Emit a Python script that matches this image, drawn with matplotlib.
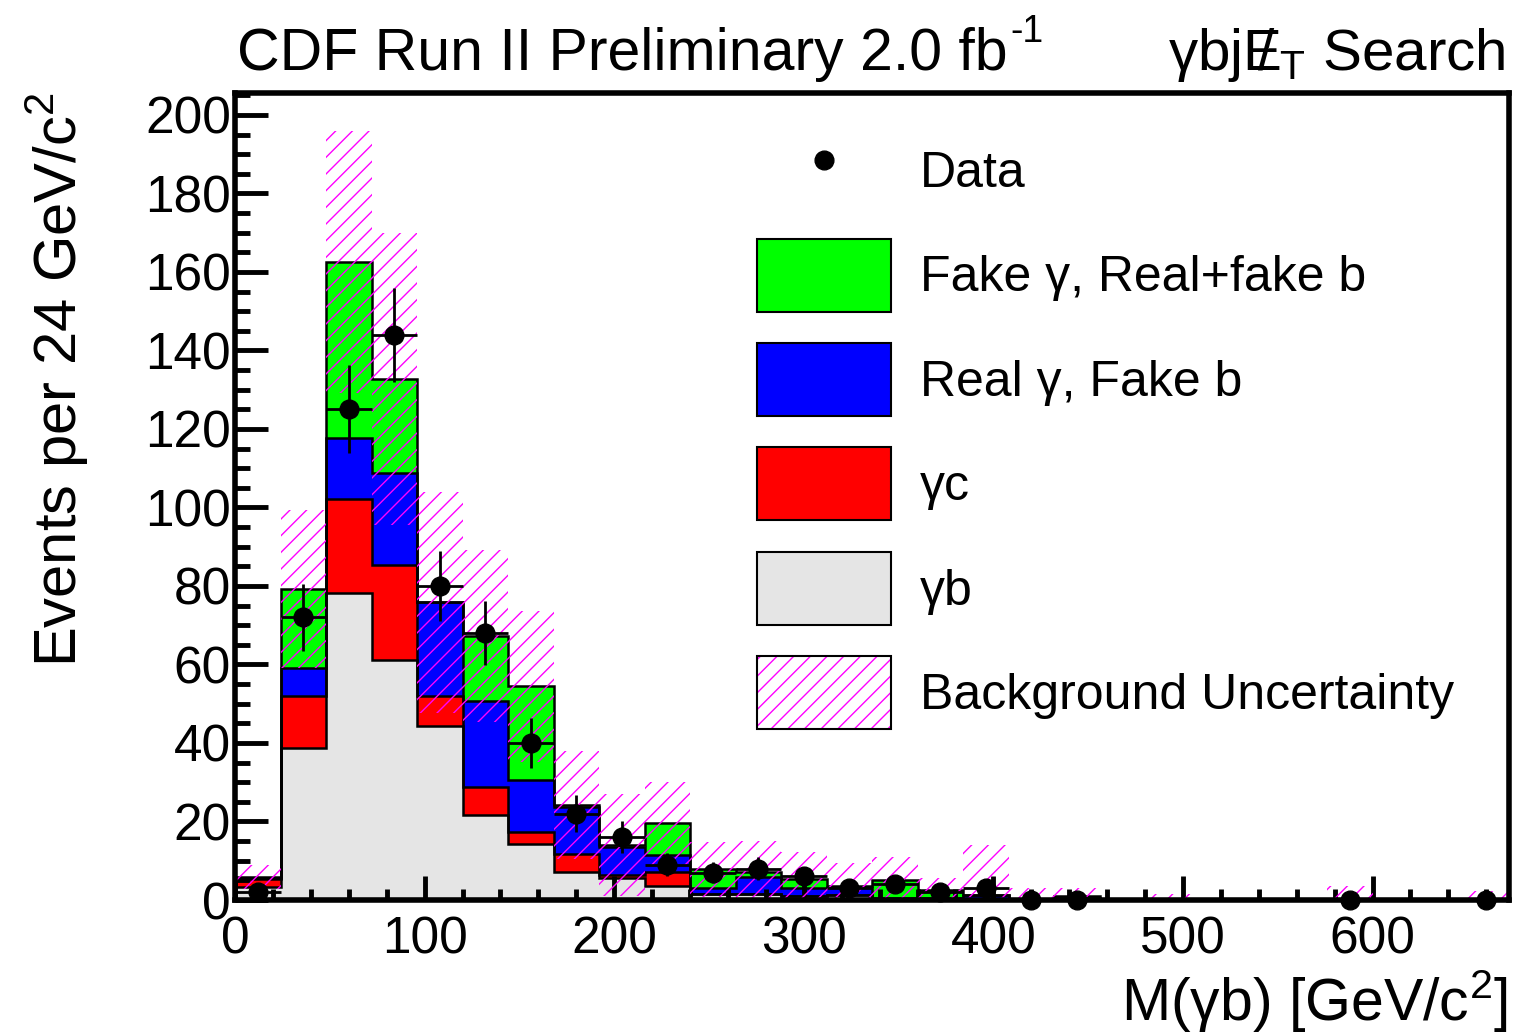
import numpy as np
import matplotlib
matplotlib.use('Agg')
import matplotlib.pyplot as plt
from matplotlib.patches import Patch
from matplotlib.lines import Line2D
from matplotlib.legend_handler import HandlerTuple
from matplotlib.ticker import MultipleLocator

plt.rcParams['font.family'] = ['Liberation Sans', 'DejaVu Sans']
plt.rcParams['mathtext.fontset'] = 'custom'
plt.rcParams['mathtext.rm'] = 'Liberation Sans'
plt.rcParams['mathtext.it'] = 'Liberation Sans:italic'
plt.rcParams['mathtext.bf'] = 'Liberation Sans:bold'
plt.rcParams['hatch.linewidth'] = 1.0

# ---------------- data (28 bins of 24 GeV/c^2 from 0 to 672) ----------------
bin_edges = np.arange(0, 673, 24)

gamma_b = [3.2, 38.7, 78.3, 61.1, 44.2, 21.7, 14.3, 7.2, 5.5, 3.6, 1.5, 1.5, 1.0, 1.2,
           0.3, 0.2, 0.2, 0.2, 0.2, 0.05, 0.1, 0.0, 0.0, 0.0, 0.2, 0.05, 0.05, 0.1]
gamma_c = [2.1, 13.3, 23.9, 24.3, 7.8, 7.2, 2.9, 4.5, 0.9, 3.6, 0.0, 0.0, 0.0, 0.0,
           0.0, 0.0, 0.0, 0.0, 0.0, 0.0, 0.0, 0.0, 0.0, 0.0, 0.0, 0.0, 0.0, 0.0]
real_gamma_fake_b = [0.3, 7.0, 15.4, 23.5, 23.8, 21.9, 13.4, 12.1, 7.2, 4.3, 1.5, 4.4, 2.0, 2.0,
                     0.3, 0.3, 1.1, 0.1, 0.2, 0.05, 0.1, 0.0, 0.0, 0.0, 0.1, 0.0, 0.0, 0.1]
fake_gamma = [0.3, 20.2, 45.0, 23.7, 0.0, 16.5, 23.8, 0.4, 0.4, 8.0, 4.8, 1.3, 2.3, 0.4,
              4.5, 2.0, 0.0, 0.0, 0.6, 0.0, 0.0, 0.0, 0.0, 0.0, 0.0, 0.0, 0.0, 0.0]
bkg_unc = [3.0, 20.2, 33.4, 37.2, 28.2, 21.9, 19.3, 13.8, 13.0, 10.6, 7.1, 7.8, 7.0, 5.7,
           5.9, 3.0, 12.7, 2.7, 2.0, 0.0, 1.3, 0.0, 0.0, 0.0, 3.3, 0.0, 0.3, 2.0]
data = [2, 72, 125, 144, 80, 68, 40, 22, 16, 9, 7, 8, 6, 3,
        4, 2, 3, 0, 0, np.nan, np.nan, np.nan, np.nan, np.nan, 0, np.nan, np.nan, 0]
data_err = [1.41, 8.49, 11.18, 12.0, 8.94, 8.25, 6.32, 4.69, 4.0, 3.0, 2.65, 2.83, 2.45, 1.73,
            2.0, 1.41, 1.73, 0, 0, 0, 0, 0, 0, 0, 0, 0, 0, 0]

legend_labels = ['Data', 'Fake γ, Real+fake b', 'Real γ, Fake b',
                 'γc', 'γb', 'Background Uncertainty']

col_gray = '#e5e5e5'
col_red = '#ff0000'
col_blue = '#0000ff'
col_green = '#00ff00'
col_hatch = '#ff00ff'

# ---------------- figure ----------------
W, H = 1516, 1032
fig = plt.figure(figsize=(W / 100, H / 100), dpi=100)
ax = fig.add_axes([235 / W, 1 - 900 / H, (1509 - 235) / W, (900 - 92.5) / H])

edges = np.asarray(bin_edges, dtype=float)
c1 = np.asarray(gamma_b)
c2 = c1 + np.asarray(gamma_c)
c3 = c2 + np.asarray(real_gamma_fake_b)
c4 = c3 + np.asarray(fake_gamma)

for cum, col in [(c4, col_green), (c3, col_blue), (c2, col_red), (c1, col_gray)]:
    ax.stairs(cum, edges, baseline=0, fill=True, color=col, zorder=1)
for cum in [c4, c3, c2, c1]:
    ax.stairs(cum, edges, baseline=0, fill=False, color='black', lw=1.8, zorder=2)

unc = np.asarray(bkg_unc)
centers = 0.5 * (edges[:-1] + edges[1:])
widths = np.diff(edges)
ax.bar(centers, 2 * unc, width=widths, bottom=c4 - unc, fill=False,
       edgecolor=col_hatch, hatch='//', lw=0, zorder=3)

d = np.asarray(data, dtype=float)
ax.errorbar(centers, d, xerr=widths / 2, yerr=np.asarray(data_err), fmt='o',
            color='black', ms=13.5, elinewidth=2.0, capsize=0, zorder=5, clip_on=False)

ax.set_xlim(0, 672)
ax.set_ylim(0, 205.7)

for s in ax.spines.values():
    s.set_linewidth(4)
    s.set_zorder(6)

ax.xaxis.set_major_locator(MultipleLocator(100))
ax.xaxis.set_minor_locator(MultipleLocator(20))
ax.yaxis.set_major_locator(MultipleLocator(20))
ax.yaxis.set_minor_locator(MultipleLocator(5))
ax.tick_params(axis='both', which='both', direction='in', top=False, right=False,
               width=3.5, labelsize=37, zorder=6)
ax.tick_params(axis='y', which='major', length=24, pad=3)
ax.tick_params(axis='y', which='minor', length=11)
ax.tick_params(axis='x', which='major', length=17, pad=11)
ax.tick_params(axis='x', which='minor', length=8)

# legend
h_data = Line2D([], [], marker='o', color='black', ls='none', ms=13.5)
h_green = Patch(facecolor=col_green, edgecolor='black', lw=1.5)
h_blue = Patch(facecolor=col_blue, edgecolor='black', lw=1.5)
h_red = Patch(facecolor=col_red, edgecolor='black', lw=1.5)
h_gray = Patch(facecolor=col_gray, edgecolor='black', lw=1.5)
h_unc = (Patch(facecolor='white', edgecolor=col_hatch, hatch='//', lw=0),
         Patch(fill=False, edgecolor='black', lw=1.5))
leg_fs = 36
leg_px = leg_fs * 100 / 72
box_h = 73 / leg_px                      # wanted box height in font units
hh = (box_h - 0.245) / 0.65              # matplotlib's handleheight giving that box
leg = ax.legend([h_data, h_green, h_blue, h_red, h_gray, h_unc], legend_labels,
                handler_map={tuple: HandlerTuple(ndivide=1)},
                loc='upper left',
                bbox_to_anchor=((757 - 235) / 1274, (900 - 134) / 807.5),
                frameon=False, fontsize=leg_fs, handlelength=134 / leg_px,
                handleheight=hh, labelspacing=31.5 / leg_px,
                handletextpad=29 / leg_px, borderpad=0, borderaxespad=0)
leg.set_zorder(7)

# titles / labels
t1 = fig.text(237 / W, 1 - 70 / H, 'CDF Run II Preliminary 2.0 fb', fontsize=42.5,
              ha='left', va='baseline')
fig.canvas.draw()
bb = t1.get_window_extent()
fig.text((bb.x1 + 3) / W, 1 - 42 / H, '-1', fontsize=27, ha='left', va='baseline')

fig.text(1505 / W, 1 - 70 / H, r'γbj$\mathrm{E}\!\!\!/_{\,\mathrm{T}}$ Search',
         fontsize=42, ha='right', va='baseline')
fig.text(57 / W, 1 - 92 / H, r'Events per 24 GeV/c$^{2}$', fontsize=43, rotation=90,
         ha='center', va='top')
fig.text(1508 / W, 1 - 1021 / H, r'M(γb) [GeV/c$^{2}$]', fontsize=42.5,
         ha='right', va='baseline')

fig.savefig('out.png', dpi=100)
